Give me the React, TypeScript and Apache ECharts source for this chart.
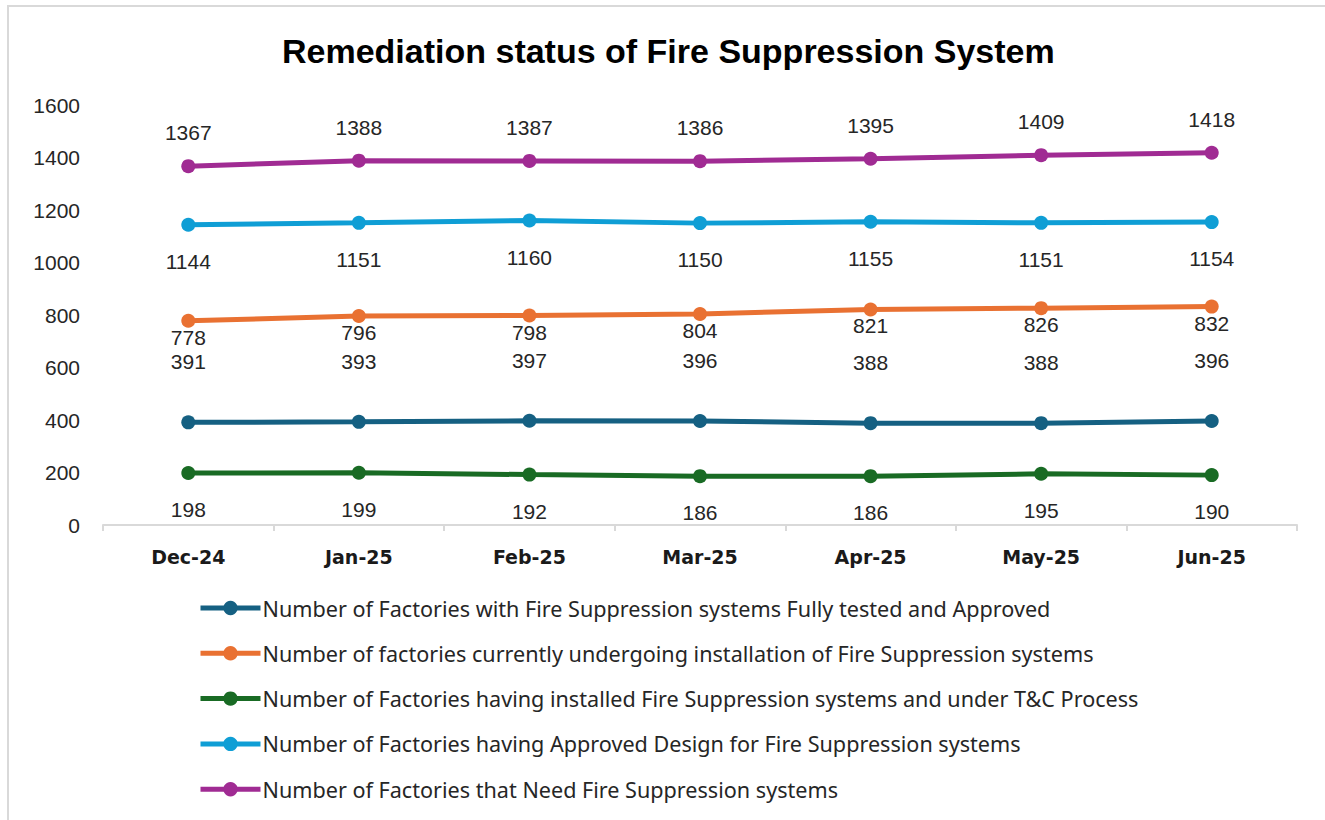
import React, { useEffect, useRef } from "react";
import * as echarts from "echarts";

const months = ["Dec-24", "Jan-25", "Feb-25", "Mar-25", "Apr-25", "May-25", "Jun-25"];
const fullyTested = [391, 393, 397, 396, 388, 388, 396];
const undergoingInstall = [778, 796, 798, 804, 821, 826, 832];
const underTC = [198, 199, 192, 186, 186, 195, 190];
const approvedDesign = [1144, 1151, 1160, 1150, 1155, 1151, 1154];
const needSystems = [1367, 1388, 1387, 1386, 1395, 1409, 1418];

const seriesNames = [
  "Number of Factories with Fire Suppression systems Fully tested and Approved",
  "Number of factories currently undergoing installation of Fire Suppression systems",
  "Number of Factories having installed Fire Suppression systems and under T&C Process",
  "Number of Factories having Approved Design for Fire Suppression systems",
  "Number of Factories that Need Fire Suppression systems",
];
const seriesData = [fullyTested, undergoingInstall, underTC, approvedDesign, needSystems];
const seriesColors = ["#156082", "#E97132", "#196B24", "#0F9ED5", "#A02B93"];
const labelPositions = ["top", "bottom", "bottom", "bottom", "top"];
const labelDistances = [43, -1, 19, 19, 16];

export default function App() {
  const ref = useRef<HTMLDivElement>(null);
  useEffect(() => {
    if (!ref.current) return;
    const chart = echarts.init(ref.current, null, { renderer: "svg" });
    chart.setOption({
      animation: false,
      backgroundColor: "#ffffff",
      title: {
        text: "Remediation status of Fire Suppression System",
        left: 277,
        top: 29,
        textStyle: {
          fontFamily: "Liberation Sans",
          fontWeight: "bold",
          fontSize: 34,
          color: "#000000",
        },
      },
      graphic: [
        {
          type: "rect",
          shape: { x: 8, y: 6, width: 1400, height: 900 },
          style: { fill: "none", stroke: "#d9d9d9", lineWidth: 2 },
          silent: true,
        },
      ],
      grid: { left: 103, right: 28, top: 105, bottom: 295, containLabel: false },
      xAxis: {
        type: "category",
        data: months,
        boundaryGap: true,
        axisLine: { lineStyle: { color: "#d9d9d9", width: 2 } },
        axisTick: { show: true, length: 6, lineStyle: { color: "#d9d9d9", width: 2 } },
        axisLabel: {
          fontFamily: "DejaVu Sans",
          fontWeight: "bold",
          fontSize: 19,
          color: "#1a1a1a",
          margin: 22,
        },
      },
      yAxis: {
        type: "value",
        min: 0,
        max: 1600,
        interval: 200,
        splitLine: { show: false },
        axisLine: { show: false },
        axisTick: { show: false },
        axisLabel: {
          fontFamily: "Liberation Sans",
          fontSize: 21,
          color: "#262626",
          margin: 23,
          formatter: (v: number) => String(v),
        },
      },
      legend: {
        orient: "vertical",
        left: 198,
        top: 597,
        padding: 0,
        itemWidth: 60,
        itemHeight: 18,
        itemGap: 23.3,
        lineStyle: { width: 5 },
        textStyle: {
          fontFamily: "Noto Sans",
          fontSize: 21.6,
          color: "#262626",
          lineHeight: 20,
          padding: [0, 0, 0, -3],
        },
        data: seriesNames,
      },
      series: seriesNames.map((name, i) => ({
        name,
        type: "line",
        data: seriesData[i],
        symbol: "circle",
        symbolSize: 14,
        color: seriesColors[i],
        lineStyle: { width: 5, color: seriesColors[i] },
        itemStyle: { color: seriesColors[i] },
        label: {
          show: true,
          position: labelPositions[i],
          distance: labelDistances[i],
          fontFamily: "Liberation Sans",
          fontSize: 21,
          color: "#262626",
        },
      })),
    });
    return () => chart.dispose();
  }, []);
  return (
    <div
      ref={ref}
      style={{ position: "fixed", left: 0, top: 0, width: 1325, height: 820 }}
    />
  );
}
